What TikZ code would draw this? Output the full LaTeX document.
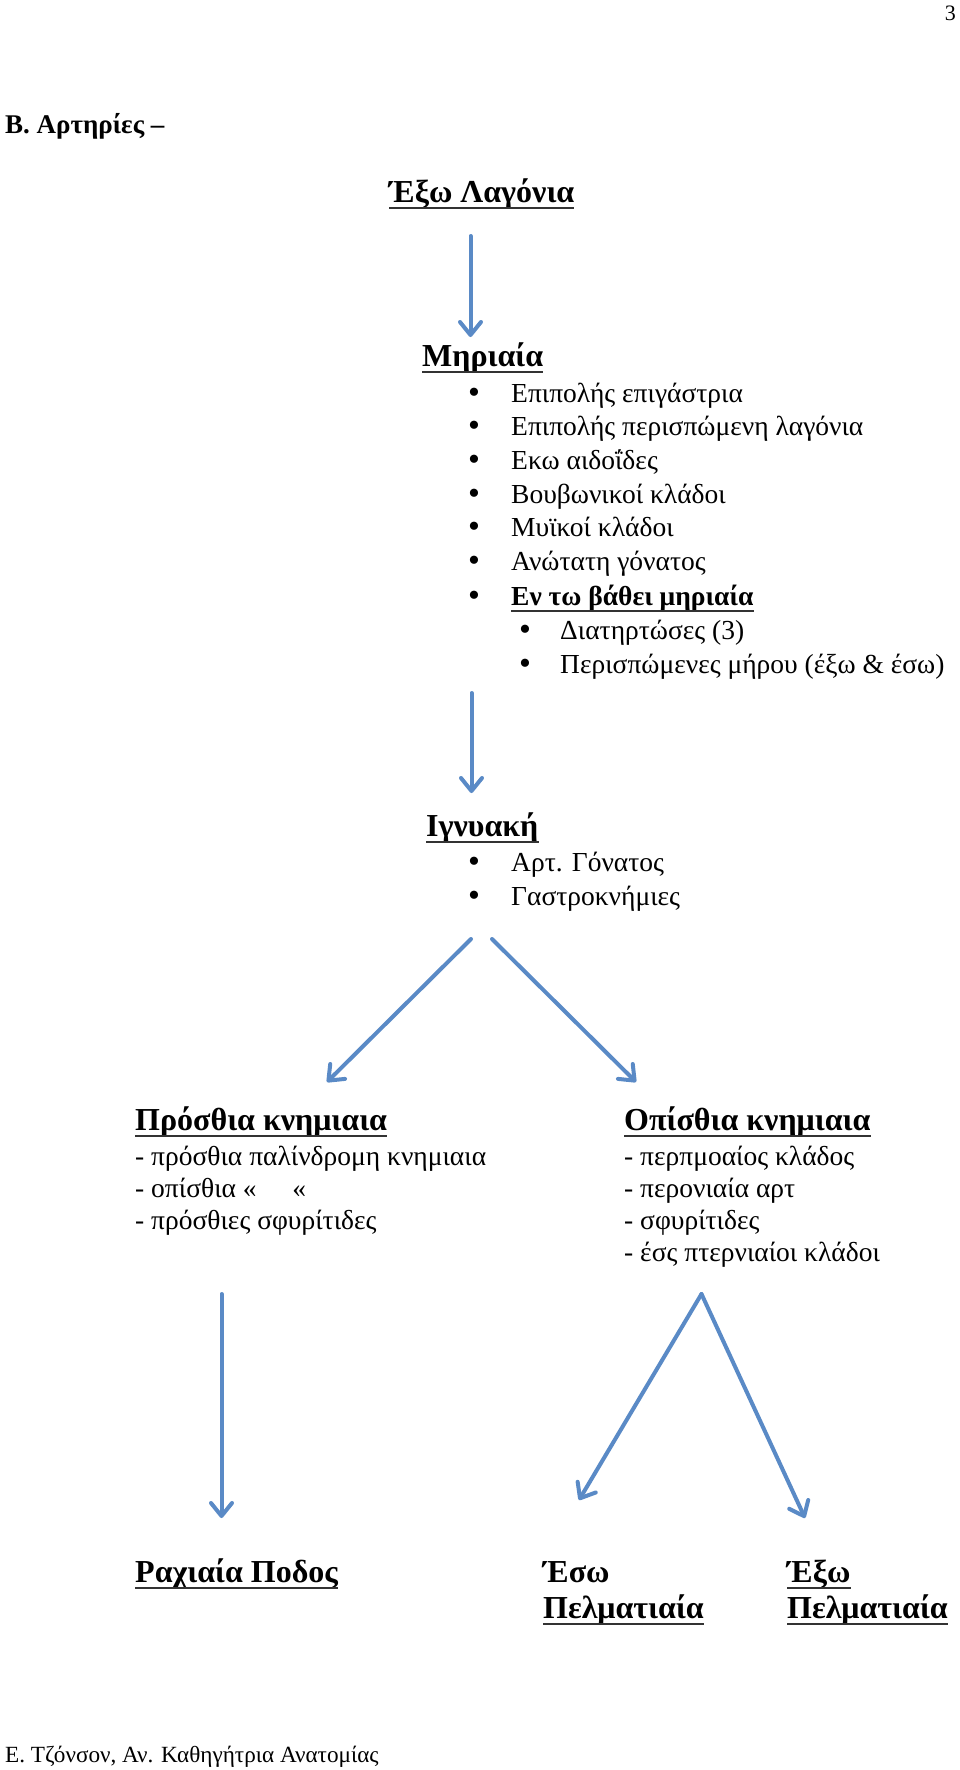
\documentclass[tikz,border=0pt]{standalone}
\usepackage{fontspec}
\setmainfont{Liberation Serif}
\usetikzlibrary{arrows.meta}
\definecolor{arrowblue}{RGB}{90,138,198}
\begin{document}
\begin{tikzpicture}[x=1pt,y=-1pt,
  txt/.style={anchor=base west,inner sep=0pt,font=\fontsize{27.5}{32}\selectfont},
  bul/.style={anchor=base west,inner sep=0pt,font=\fontsize{34}{36}\selectfont},
  head/.style={anchor=base west,inner sep=0pt,font=\fontsize{32}{38}\selectfont\bfseries},
  ul/.style={line width=1.1pt,black!80},
  blue/.style={draw=arrowblue,line width=4pt,line cap=round,-{Straight Barb[length=13pt,width=21pt,line cap=round,line join=round]}}
]
\useasboundingbox[fill=white] (0,0) rectangle (960,1770);
% page number and title
\node[anchor=base east,inner sep=0pt,font=\fontsize{22}{26}\selectfont] (pg) at (956,20) {3};
\node[anchor=base west,inner sep=0pt,font=\fontsize{27}{30}\selectfont\bfseries] (title) at (5,133) {B. Αρτηρίες –};
% Exo lagonia
\node[head] (lag) at (389,202) {Έξω Λαγόνια};
\draw[ul] ([yshift=-6pt]lag.base west) -- ([yshift=-6pt]lag.base east);
\coordinate (a1s) at (470.5,236);
\coordinate (a1e) at (470.5,337);
\draw[blue] (a1s) -- (a1e);
% Mhriaia
\node[head] (mhr) at (422,366) {Μηριαία};
\draw[ul] ([yshift=-6pt]mhr.base west) -- ([yshift=-6pt]mhr.base east);
\foreach \t [count=\i] in {Επιπολής επιγάστρια,Επιπολής περισπώμενη λαγόνια,Εκω αιδοΐδες,Βουβωνικοί κλάδοι,Μυϊκοί κλάδοι,Ανώτατη γόνατος}{
  \node[bul] (mb\i) at (468,{403+33.7*(\i-1)}) {•};
  \node[txt] (m\i) at (511,{402+33.7*(\i-1)}) {\t};
}
\node[bul] (mb7) at (468,606) {•};
\node[txt,font=\fontsize{27.5}{32}\selectfont\bfseries] (m7) at (511,605) {Εν τω βάθει μηριαία};
\draw[ul] ([yshift=-6pt]m7.base west) -- ([yshift=-6pt]m7.base east);
\node[bul] (sb1) at (519,640) {•};
\node[txt] (s1) at (560,639) {Διατηρτώσες (3)};
\node[bul] (sb2) at (519,674) {•};
\node[txt] (s2) at (560,673) {Περισπώμενες μήρου (έξω \& έσω)};
\coordinate (a2s) at (471.5,693);
\coordinate (a2e) at (471.5,793);
\draw[blue] (a2s) -- (a2e);
% Ignyakh
\node[head] (ign) at (426,836) {Ιγνυακή};
\draw[ul] ([yshift=-6pt]ign.base west) -- ([yshift=-6pt]ign.base east);
\node[bul] (ib1) at (468,872) {•};
\node[txt] (i1) at (511,871) {Αρτ. Γόνατος};
\node[bul] (ib2) at (468,906) {•};
\node[txt] (i2) at (511,905) {Γαστροκνήμιες};
\coordinate (a3s) at (471,939);
\coordinate (a3e) at (327,1082);
\coordinate (a4s) at (492,939);
\coordinate (a4e) at (636,1082);
\draw[blue] (a3s) -- (a3e);
\draw[blue] (a4s) -- (a4e);
% Prosthia
\node[head] (pro) at (135,1130) {Πρόσθια κνημιαια};
\draw[ul] ([yshift=-6pt]pro.base west) -- ([yshift=-6pt]pro.base east);
\node[txt] (p1) at (135,1165) {- πρόσθια παλίνδρομη κνημιαια};
\node[txt] (p2) at (135,1197) {- οπίσθια «\hspace{1.3em}«};
\node[txt] (p3) at (135,1229) {- πρόσθιες σφυρίτιδες};
% Opisthia
\node[head] (opi) at (624,1130) {Οπίσθια κνημιαια};
\draw[ul] ([yshift=-6pt]opi.base west) -- ([yshift=-6pt]opi.base east);
\node[txt] (o1) at (624,1165) {- περπμοαίος κλάδος};
\node[txt] (o2) at (624,1197) {- περονιαία αρτ};
\node[txt] (o3) at (624,1229) {- σφυρίτιδες};
\node[txt] (o4) at (624,1261) {- έσς πτερνιαίοι κλάδοι};
% lower arrows
\coordinate (a5s) at (221.5,1294);
\coordinate (a5e) at (221.5,1518);
\draw[blue] (a5s) -- (a5e);
\coordinate (apex) at (701.5,1294);
\coordinate (a6e) at (579,1500);
\coordinate (a7e) at (805,1518);
\draw[blue] (apex) -- (a6e);
\draw[blue] (apex) -- (a7e);
% bottom nodes
\node[head] (rax) at (135,1582) {Ραχιαία Ποδος};
\draw[ul] ([yshift=-6pt]rax.base west) -- ([yshift=-6pt]rax.base east);
\node[head] (esw) at (543,1582) {Έσω};
\node[head] (pel1) at (543,1618) {Πελματιαία};
\draw[ul] ([yshift=-6pt]pel1.base west) -- ([yshift=-6pt]pel1.base east);
\node[head] (exw) at (787,1582) {Έξω};
\draw[ul] ([yshift=-6pt]exw.base west) -- ([yshift=-6pt]exw.base east);
\node[head] (pel2) at (787,1618) {Πελματιαία};
\draw[ul] ([yshift=-6pt]pel2.base west) -- ([yshift=-6pt]pel2.base east);
% footer
\node[anchor=base west,inner sep=0pt,font=\fontsize{23.2}{27}\selectfont] (foot) at (5,1762) {Ε. Τζόνσον, Αν. Καθηγήτρια Ανατομίας};
\end{tikzpicture}
\end{document}
